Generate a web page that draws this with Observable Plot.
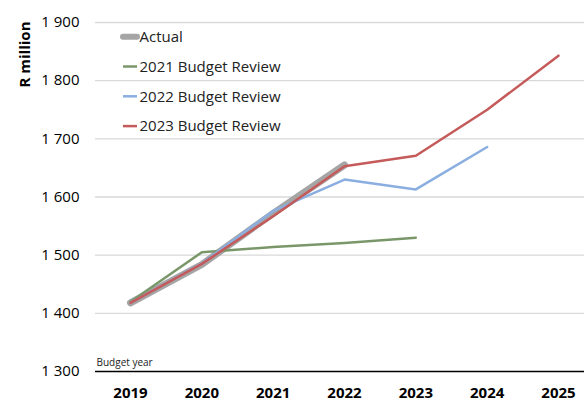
<!DOCTYPE html>
<html>
<head>
<meta charset="utf-8">
<script src="https://cdn.jsdelivr.net/npm/d3@7"></script>
<script src="https://cdn.jsdelivr.net/npm/@observablehq/plot@0.6"></script>
<style>
  html, body { margin: 0; padding: 0; background: #fff; }
  svg { display: block; }
</style>
</head>
<body>
<div id="chart"></div>
<script>
const years = [2019, 2020, 2021, 2022, 2023, 2024, 2025];
const actual = [1418, 1484, 1572, 1655];
const br2021 = [1420, 1505, 1514, 1521, 1530];
const br2022 = [1418, 1486, 1576, 1630, 1613, 1686];
const br2023 = [1418, 1485, 1567, 1653, 1671, 1750, 1843];
const yTicks = [1300, 1400, 1500, 1600, 1700, 1800, 1900];
const seriesNames = ["Actual", "2021 Budget Review", "2022 Budget Review", "2023 Budget Review"];
const seriesColors = ["#a5a5a5", "#7a976a", "#8aaee0", "#c55a5a"];
const seriesWidths = [7, 2.5, 2.5, 2.5];
const seriesValues = [actual, br2021, br2022, br2023];

const font = "'Open Sans', 'Noto Sans', sans-serif";

const rows = seriesValues.flatMap((vals, i) =>
  vals.map((v, j) => ({series: seriesNames[i], year: years[j], value: v}))
);

const lineMarks = seriesNames.map((name, i) =>
  Plot.line(rows.filter(d => d.series === name), {
    x: "year", y: "value",
    stroke: seriesColors[i], strokeWidth: seriesWidths[i],
    strokeLinecap: "round", strokeLinejoin: "round"
  })
);

const legendStep = 29.8;
const legendTop = 14.7;

const legendSamples = (index, scales, values, dims) => {
  const g = d3.create("svg:g");
  seriesNames.forEach((name, i) => {
    const y = dims.marginTop + legendTop + i * legendStep;
    g.append("line")
      .attr("x1", dims.marginLeft + 28).attr("x2", dims.marginLeft + 42)
      .attr("y1", y).attr("y2", y)
      .attr("stroke", seriesColors[i])
      .attr("stroke-width", i === 0 ? 6 : 2.5)
      .attr("stroke-linecap", i === 0 ? "round" : "butt");
  });
  return g.node();
};

const legendTexts = seriesNames.map((name, i) =>
  Plot.text([name], {
    frameAnchor: "top-left", textAnchor: "start", lineAnchor: "middle",
    dx: 44, dy: legendTop + i * legendStep, fontSize: 15, fill: "#222"
  })
);

const fmt = d => d3.format(",")(d).replace(",", " ");

const chart = Plot.plot({
  width: 584,
  height: 401,
  marginLeft: 95,
  marginRight: 0,
  marginTop: 22,
  marginBottom: 30,
  style: {fontFamily: font, background: "#fff", color: "#000"},
  x: {domain: [2019, 2025], range: [130, 558]},
  y: {domain: [1300, 1900]},
  marks: [
    Plot.ruleY(yTicks.filter(t => t > 1300), {stroke: "#d9d9d9", strokeWidth: 1.3}),
    Plot.ruleY([1300], {stroke: "#000", strokeWidth: 1.3}),
    Plot.axisY({ticks: yTicks, tickSize: 0, tickPadding: 16, tickFormat: fmt, fontSize: 15, label: null}),
    Plot.axisX({ticks: years, tickSize: 0, tickPadding: 16, tickFormat: d => String(d), fontSize: 15, fontWeight: "bold", label: null}),
    ...lineMarks,
    legendSamples,
    ...legendTexts,
    Plot.text(["Budget year"], {frameAnchor: "bottom-left", textAnchor: "start", dx: 1, dy: -6, fontSize: 10, fill: "#222"}),
    Plot.text(["R million"], {frameAnchor: "top-left", textAnchor: "middle", rotate: -90, dx: -76, dy: 32, fontSize: 15, fontWeight: "bold", fill: "#000"})
  ]
});

document.getElementById("chart").appendChild(chart);
</script>
</body>
</html>
